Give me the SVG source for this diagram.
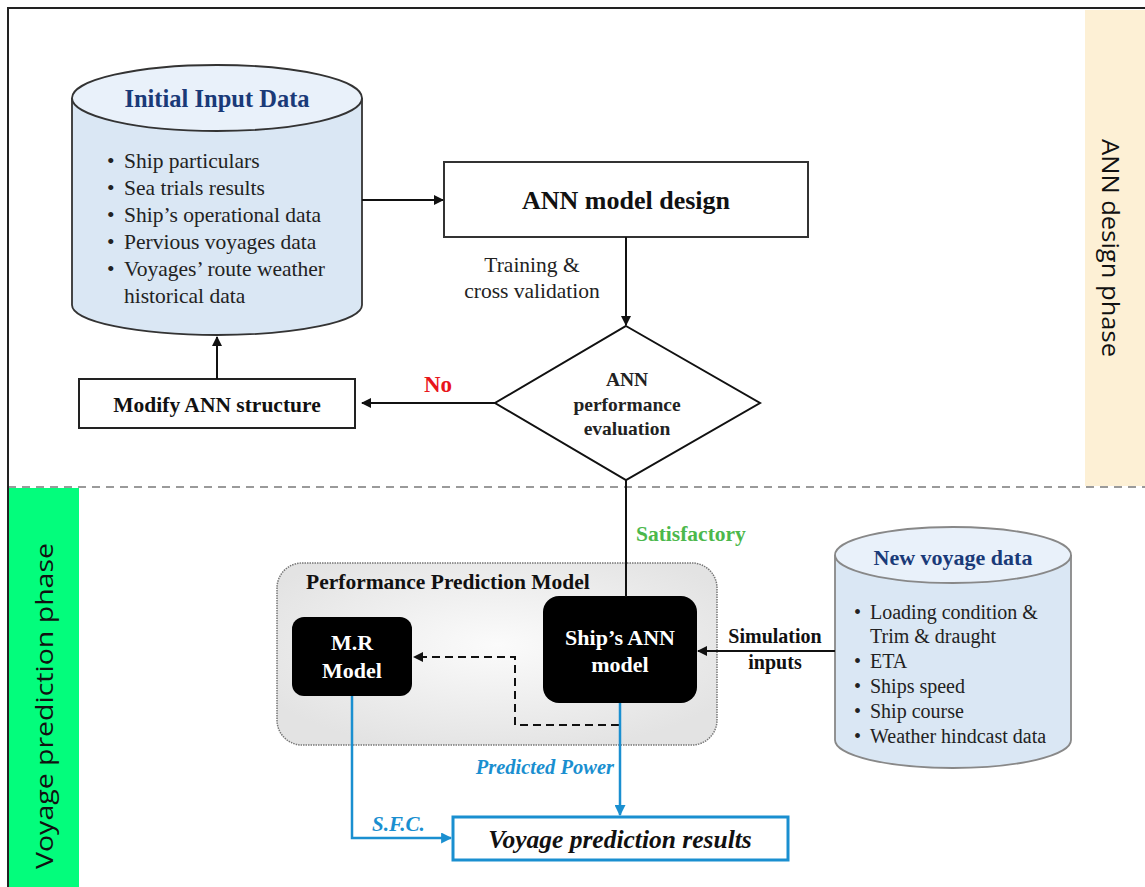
<svg xmlns="http://www.w3.org/2000/svg" width="1145" height="887" viewBox="0 0 1145 887">
<defs>
<style>
.serif{font-family:"Liberation Serif","Times New Roman",serif;}
.b{font-weight:bold;}
.i{font-style:italic;}
.side{font-family:"Open Sans","Noto Sans",sans-serif;font-size:24px;fill:#111;}
.ln{stroke:#111;stroke-width:2;fill:none;}
.bl{stroke:#1a8fd0;stroke-width:2.5;fill:none;}
</style>
<marker id="ah" viewBox="0 0 10 10" refX="9" refY="5" markerWidth="10" markerHeight="10" markerUnits="userSpaceOnUse" orient="auto">
<path d="M0,0 L10,5 L0,10 z" fill="#111"/>
</marker>
<marker id="ahb" viewBox="0 0 10 10" refX="9" refY="5" markerWidth="11" markerHeight="11" markerUnits="userSpaceOnUse" orient="auto">
<path d="M0,0 L10,5 L0,10 z" fill="#1a8fd0"/>
</marker>
<radialGradient id="pg" cx="50%" cy="45%" r="60%">
<stop offset="0" stop-color="#fbfbfb"/>
<stop offset="1" stop-color="#e3e3e3"/>
</radialGradient>
</defs>
<rect width="1145" height="887" fill="#fff"/>
<g id="phases">
<rect x="1085" y="10" width="60" height="476" fill="#fdf0d5"/>
<rect x="9" y="488" width="70" height="399" fill="#03fd7c"/>
<line x1="8" y1="487" x2="1145" y2="487" stroke="#9a9a9a" stroke-width="2" stroke-dasharray="8 6"/>
<path d="M8,887 V8 H1145" fill="none" stroke="#222" stroke-width="2"/>
<text class="side" transform="translate(1102,248) rotate(90)" text-anchor="middle" textLength="218" lengthAdjust="spacingAndGlyphs">ANN design phase</text>
<text class="side" transform="translate(53,706) rotate(-90)" text-anchor="middle" textLength="326" lengthAdjust="spacingAndGlyphs">Voyage prediction phase</text>
</g>
<g id="initial-input">
<path d="M72,98 V305 A145,30 0 0 0 362,305 V98" fill="#dae7f4" stroke="#333" stroke-width="1.8"/>
<ellipse cx="217" cy="98" rx="145" ry="33" fill="#e9f1fa" stroke="#333" stroke-width="1.8"/>
<text class="serif b" x="217" y="107" font-size="24.5" fill="#1a3a78" text-anchor="middle">Initial Input Data</text>
<g class="serif" font-size="21.5" fill="#222">
<text x="107" y="168">•</text><text x="124" y="168">Ship particulars</text>
<text x="107" y="195">•</text><text x="124" y="195">Sea trials results</text>
<text x="107" y="222">•</text><text x="124" y="222">Ship’s operational data</text>
<text x="107" y="249">•</text><text x="124" y="249">Pervious voyages data</text>
<text x="107" y="276">•</text><text x="124" y="276">Voyages’ route weather</text>
<text x="124" y="303">historical data</text>
</g>
</g>
<g id="ann-design">
<rect x="444" y="162" width="364" height="75" fill="#fff" stroke="#333" stroke-width="2"/>
<text class="serif b" x="626" y="209" font-size="26" fill="#111" text-anchor="middle">ANN model design</text>
</g>
<g id="evaluation">
<polygon points="626,326 760,403 626,480 495,403" fill="#fff" stroke="#111" stroke-width="2"/>
<g class="serif b" font-size="19.5" fill="#222" text-anchor="middle">
<text x="627" y="386">ANN</text>
<text x="627" y="411">performance</text>
<text x="627" y="435">evaluation</text>
</g>
</g>
<g id="modify">
<rect x="79" y="379" width="276" height="49" fill="#fff" stroke="#222" stroke-width="2"/>
<text class="serif b" x="217" y="412" font-size="21.5" fill="#111" text-anchor="middle">Modify ANN structure</text>
</g>
<g id="ppm">
<rect x="277" y="563" width="440" height="182" rx="25" fill="url(#pg)" stroke="#777" stroke-width="1.5" stroke-dasharray="1.5 1"/>
<text class="serif b" x="306" y="589" font-size="21.5" fill="#111">Performance Prediction Model</text>
</g>
<g id="mr-model">
<rect x="292" y="617" width="120" height="79" rx="12" fill="#000"/>
<text class="serif b" x="352" y="650" font-size="22" fill="#fff" text-anchor="middle">M.R</text>
<text class="serif b" x="352" y="678" font-size="22" fill="#fff" text-anchor="middle">Model</text>
</g>
<g id="ship-ann">
<rect x="543" y="596" width="154" height="107" rx="16" fill="#000"/>
<text class="serif b" x="620" y="645" font-size="22" fill="#fff" text-anchor="middle">Ship’s ANN</text>
<text class="serif b" x="620" y="672" font-size="22" fill="#fff" text-anchor="middle">model</text>
</g>
<g id="results">
<rect x="453" y="817" width="335" height="43" fill="#fff" stroke="#1a8fd0" stroke-width="3"/>
<text class="serif b i" x="620" y="848" font-size="25.5" fill="#111" text-anchor="middle">Voyage prediction results</text>
</g>
<g id="new-voyage">
<path d="M835,555 V740 A118,28 0 0 0 1071,740 V555" fill="#dae7f4" stroke="#888" stroke-width="1.8"/>
<ellipse cx="953" cy="555" rx="118" ry="28" fill="#e9f1fa" stroke="#888" stroke-width="1.8"/>
<text class="serif b" x="953" y="565" font-size="22" fill="#1a3a78" text-anchor="middle">New voyage data</text>
<g class="serif" font-size="20" fill="#222">
<text x="854" y="619">•</text><text x="870" y="619">Loading condition &amp;</text>
<text x="870" y="643">Trim &amp; draught</text>
<text x="854" y="668">•</text><text x="870" y="668">ETA</text>
<text x="854" y="693">•</text><text x="870" y="693">Ships speed</text>
<text x="854" y="718">•</text><text x="870" y="718">Ship course</text>
<text x="854" y="743">•</text><text x="870" y="743">Weather hindcast data</text>
</g>
</g>
<g id="connectors">
<line class="ln" x1="362" y1="200" x2="443" y2="200" marker-end="url(#ah)"/>
<line class="ln" x1="626" y1="237" x2="626" y2="325" marker-end="url(#ah)"/>
<line class="ln" x1="495" y1="403" x2="362" y2="403" marker-end="url(#ah)"/>
<line class="ln" x1="217" y1="379" x2="217" y2="337" marker-end="url(#ah)"/>
<line class="ln" x1="626" y1="480" x2="626" y2="597"/>
<line class="ln" x1="835" y1="651" x2="698" y2="651" marker-end="url(#ah)"/>
<path d="M619,725 H515 V657 H414" fill="none" stroke="#111" stroke-width="2" stroke-dasharray="8 5" marker-end="url(#ah)"/>
<line class="bl" x1="620" y1="703" x2="620" y2="815" marker-end="url(#ahb)"/>
<path class="bl" d="M352,696 V838 H451" marker-end="url(#ahb)"/>
<text class="serif b" x="438" y="392" font-size="23" fill="#e8151b" text-anchor="middle">No</text>
<text class="serif" x="532" y="272" font-size="21.5" fill="#222" text-anchor="middle">Training &amp;</text>
<text class="serif" x="532" y="298" font-size="21.5" fill="#222" text-anchor="middle">cross validation</text>
<text class="serif b" x="636" y="541" font-size="21.5" fill="#4cb84c">Satisfactory</text>
<text class="serif b" x="775" y="643" font-size="20" fill="#111" text-anchor="middle">Simulation</text>
<text class="serif b" x="775" y="669" font-size="20" fill="#111" text-anchor="middle">inputs</text>
<text class="serif b i" x="614" y="774" font-size="20.5" fill="#1a8fd0" text-anchor="end">Predicted Power</text>
<text class="serif b i" x="372" y="831" font-size="21" fill="#1a8fd0">S.F.C.</text>
</g>
</svg>
